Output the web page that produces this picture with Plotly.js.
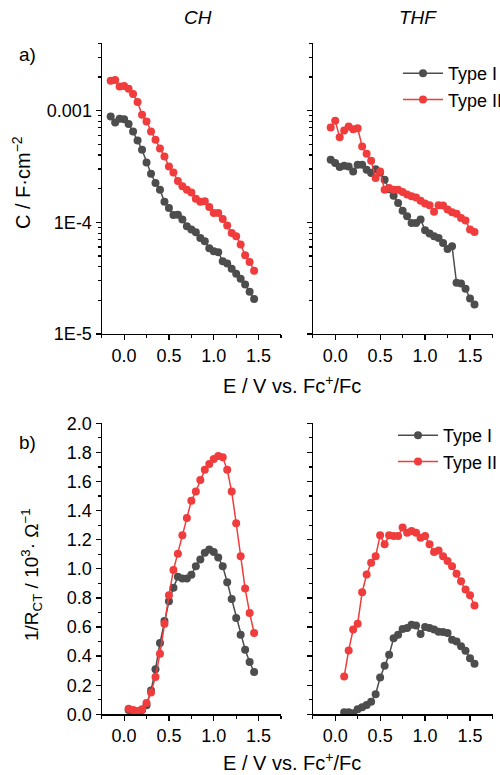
<!DOCTYPE html>
<html>
<head>
<meta charset="utf-8">
<script src="https://cdn.plot.ly/plotly-3.0.1.min.js"></script>
<style>html,body{margin:0;padding:0;background:#fff;}#chart{width:500px;height:775px;}</style>
</head>
<body>
<div id="chart"></div>
<script>
// ---------- DATA ----------
const seriesNames = ["Type I", "Type II"];
const panelTitles = ["CH", "THF"];
const xTickLabels = ["0.0", "0.5", "1.0", "1.5"];
const xTickValues = [0, 0.5, 1.0, 1.5];
const capTickValues = [1e-5, 1e-4, 1e-3];
const capTickLabels = ["1E-5", "1E-4", "0.001"];

// Capacitance, CH (E in V vs Fc+/Fc)
const capCH_E = [-0.15,-0.10,-0.05,0.00,0.05,0.10,0.15,0.20,0.25,0.30,0.35,0.40,0.45,0.50,0.55,0.60,0.65,0.70,0.75,0.80,0.85,0.90,0.95,1.00,1.05,1.10,1.15,1.20,1.25,1.30,1.35,1.40,1.45];
const capCH_typeI = [8.84e-4,7.81e-4,8.43e-4,8.37e-4,7.60e-4,6.49e-4,5.40e-4,4.45e-4,3.43e-4,2.72e-4,2.25e-4,1.96e-4,1.53e-4,1.34e-4,1.16e-4,1.17e-4,1.06e-4,9.21e-5,8.60e-5,8.15e-5,7.25e-5,6.77e-5,5.86e-5,5.51e-5,5.40e-5,4.49e-5,4.28e-5,3.83e-5,3.46e-5,3.12e-5,2.78e-5,2.39e-5,2.06e-5];
const capCH_typeII = [1.85e-3,1.88e-3,1.64e-3,1.66e-3,1.57e-3,1.41e-3,1.19e-3,9.15e-4,7.98e-4,6.49e-4,5.47e-4,4.58e-4,3.88e-4,3.16e-4,2.79e-4,2.34e-4,2.10e-4,1.96e-4,1.85e-4,1.62e-4,1.53e-4,1.54e-4,1.37e-4,1.21e-4,1.21e-4,1.07e-4,9.34e-5,8.03e-5,7.50e-5,6.32e-5,5.07e-5,4.42e-5,3.68e-5];

// Capacitance, THF
const capTHF_E = [-0.05,0.00,0.05,0.10,0.15,0.20,0.25,0.30,0.35,0.40,0.45,0.50,0.55,0.60,0.65,0.70,0.75,0.80,0.85,0.90,0.95,1.00,1.05,1.10,1.15,1.20,1.25,1.30,1.35,1.40,1.45,1.50,1.55];
const capTHF_typeI = [3.63e-4,3.39e-4,3.12e-4,3.21e-4,3.16e-4,2.85e-4,3.27e-4,3.27e-4,2.95e-4,2.76e-4,2.99e-4,2.79e-4,2.40e-4,1.98e-4,1.73e-4,1.49e-4,1.27e-4,1.13e-4,9.86e-5,9.86e-5,1.06e-4,8.49e-5,7.92e-5,7.50e-5,7.25e-5,6.53e-5,5.78e-5,6.10e-5,2.87e-5,2.83e-5,2.54e-5,2.08e-5,1.84e-5];
const capTHF_typeII = [7.05e-4,8.09e-4,5.78e-4,6.63e-4,7.20e-4,6.81e-4,6.95e-4,4.77e-4,4.10e-4,3.55e-4,2.49e-4,2.85e-4,1.96e-4,2.03e-4,1.96e-4,1.96e-4,1.87e-4,1.77e-4,1.71e-4,1.67e-4,1.56e-4,1.47e-4,1.42e-4,1.24e-4,1.42e-4,1.41e-4,1.30e-4,1.23e-4,1.19e-4,1.09e-4,1.04e-4,8.60e-5,8.20e-5];

// 1/R_CT, CH
const rctCH_E = [0.05,0.10,0.15,0.20,0.25,0.30,0.35,0.40,0.45,0.50,0.55,0.60,0.65,0.70,0.75,0.80,0.85,0.90,0.95,1.00,1.05,1.10,1.15,1.20,1.25,1.30,1.35,1.40,1.45];
const rctCH_typeI = [0.030,0.023,0.016,0.030,0.062,0.163,0.310,0.490,0.641,0.777,0.869,0.945,0.933,0.933,0.959,1.018,1.064,1.110,1.133,1.115,1.078,1.018,0.908,0.793,0.662,0.547,0.444,0.359,0.290];
const rctCH_typeII = [0.039,0.030,0.023,0.034,0.078,0.149,0.257,0.416,0.623,0.818,0.991,1.103,1.230,1.349,1.467,1.531,1.611,1.680,1.720,1.754,1.775,1.766,1.680,1.531,1.313,1.087,0.864,0.697,0.559];

// 1/R_CT, THF
const rctTHF_E = [0.10,0.15,0.20,0.25,0.30,0.35,0.40,0.45,0.50,0.55,0.60,0.65,0.70,0.75,0.80,0.85,0.90,0.95,1.00,1.05,1.10,1.15,1.20,1.25,1.30,1.35,1.40,1.45,1.50,1.55];
const rctTHF_typeI = [0.014,0.014,0.007,0.034,0.048,0.064,0.087,0.138,0.253,0.333,0.409,0.522,0.547,0.586,0.593,0.616,0.611,0.552,0.600,0.593,0.582,0.568,0.566,0.559,0.513,0.501,0.467,0.437,0.386,0.347];
const rctTHF_typeII = [0.260,0.439,0.582,0.623,0.839,0.961,1.041,1.087,1.230,1.168,1.230,1.225,1.225,1.283,1.248,1.260,1.248,1.214,1.225,1.168,1.115,1.126,1.087,1.053,1.018,0.966,0.915,0.857,0.818,0.747];

// ---------- STYLE ----------
const W = 500, H = 775;
const FONT = "Liberation Sans, Arial, sans-serif";
const GRAY = "#4d4d4d", RED = "#f03c3c";
const px = x => x / W;
const py = y => 1 - y / H;

function tr(x, y, color, name, xa, ya, legend, show) {
  return {
    x: x, y: y, name: name, type: "scatter", mode: "lines+markers",
    xaxis: xa, yaxis: ya, legend: legend, showlegend: show,
    line: {color: color, width: 1.5},
    marker: {color: color, size: 8, symbol: "circle"}
  };
}

const data = [
  tr(capCH_E, capCH_typeI, GRAY, seriesNames[0], "x", "y", "legend", false),
  tr(capCH_E, capCH_typeII, RED, seriesNames[1], "x", "y", "legend", false),
  tr(capTHF_E, capTHF_typeI, GRAY, seriesNames[0], "x2", "y2", "legend", true),
  tr(capTHF_E, capTHF_typeII, RED, seriesNames[1], "x2", "y2", "legend", true),
  tr(rctCH_E, rctCH_typeI, GRAY, seriesNames[0], "x3", "y3", "legend2", false),
  tr(rctCH_E, rctCH_typeII, RED, seriesNames[1], "x3", "y3", "legend2", false),
  tr(rctTHF_E, rctTHF_typeI, GRAY, seriesNames[0], "x4", "y4", "legend2", true),
  tr(rctTHF_E, rctTHF_typeII, RED, seriesNames[1], "x4", "y4", "legend2", true)
];

// log minor ticks (2..9 per decade)
const logMinor = [];
for (let d = -5; d <= -3; d++) for (let k = 2; k <= 9; k++) logMinor.push(k * Math.pow(10, d));

const tickFont = {family: FONT, size: 18, color: "#000"};
function xAxis(domain, anchor) {
  return {
    domain: domain, anchor: anchor, range: [-0.25, 1.75],
    tickmode: "array", tickvals: xTickValues, ticktext: xTickLabels,
    showline: true, linecolor: "#000", linewidth: 1.2, mirror: false,
    ticks: "outside", ticklen: 5, tickwidth: 1.2, tickcolor: "#000",
    minor: {dtick: 0.25, tick0: 0, ticks: "outside", ticklen: 3, tickwidth: 1.2, tickcolor: "#000", showgrid: false},
    showgrid: false, zeroline: false, tickfont: tickFont, fixedrange: true
  };
}
function yLog(domain, anchor, labels) {
  return {
    domain: domain, anchor: anchor, type: "log",
    range: [Math.log10(1e-5), Math.log10(4e-3)],
    tickmode: "array", tickvals: capTickValues, ticktext: capTickLabels,
    showticklabels: labels,
    showline: true, linecolor: "#000", linewidth: 1.2,
    ticks: "outside", ticklen: 5, tickwidth: 1.2, tickcolor: "#000",
    minor: {tickmode: "array", tickvals: logMinor, ticks: "outside", ticklen: 3, tickwidth: 1.2, tickcolor: "#000", showgrid: false},
    showgrid: false, zeroline: false, tickfont: tickFont, fixedrange: true
  };
}
function yLin(domain, anchor, labels) {
  return {
    domain: domain, anchor: anchor, range: [0, 2.0],
    dtick: 0.2, tick0: 0, tickformat: ".1f",
    showticklabels: labels,
    showline: true, linecolor: "#000", linewidth: 1.2,
    ticks: "outside", ticklen: 5, tickwidth: 1.2, tickcolor: "#000",
    minor: {dtick: 0.1, tick0: 0, ticks: "outside", ticklen: 3, tickwidth: 1.2, tickcolor: "#000", showgrid: false},
    showgrid: false, zeroline: false, tickfont: tickFont, fixedrange: true
  };
}

const dxL = [px(101.7), px(281)];
const dxR = [px(312.7), px(492.5)];
const dyT = [py(334), py(43.3)];
const dyB = [py(714.3), py(423.3)];

function ann(text, x, y, size, extra) {
  return Object.assign({
    text: text, x: px(x), y: py(y), xref: "paper", yref: "paper",
    showarrow: false, xanchor: "center", yanchor: "middle",
    font: {family: FONT, size: size, color: "#000"}
  }, extra || {});
}

const layout = {
  width: W, height: H,
  margin: {l: 0, r: 0, t: 0, b: 0, autoexpand: false},
  paper_bgcolor: "#fff", plot_bgcolor: "#fff",
  font: {family: FONT, size: 18, color: "#000"},
  xaxis: xAxis(dxL, "y"),
  yaxis: yLog(dyT, "x", true),
  xaxis2: xAxis(dxR, "y2"),
  yaxis2: yLog(dyT, "x2", false),
  xaxis3: xAxis(dxL, "y3"),
  yaxis3: yLin(dyB, "x3", true),
  xaxis4: xAxis(dxR, "y4"),
  yaxis4: yLin(dyB, "x4", false),
  legend: {
    x: px(398), y: py(55), xanchor: "left", yanchor: "top",
    bgcolor: "rgba(0,0,0,0)", borderwidth: 0, itemwidth: 40,
    font: {family: FONT, size: 18, color: "#000"}, tracegroupgap: 0
  },
  legend2: {
    x: px(393), y: py(417), xanchor: "left", yanchor: "top",
    bgcolor: "rgba(0,0,0,0)", borderwidth: 0, itemwidth: 40,
    font: {family: FONT, size: 18, color: "#000"}, tracegroupgap: 0
  },
  annotations: [
    ann("<i>" + panelTitles[0] + "</i>", 198, 18, 19),
    ann("<i>" + panelTitles[1] + "</i>", 418, 18, 19),
    ann("a)", 27, 55, 19),
    ann("b)", 27, 442, 19),
    ann("E / V vs. Fc<sup>+</sup>/Fc", 292, 384, 20),
    ann("E / V vs. Fc<sup>+</sup>/Fc", 292, 761, 20),
    ann("C / F·cm<sup>−2</sup>", 22, 183, 20, {textangle: -90}),
    ann("1/R<sub>CT</sub> / 10<sup>3</sup>· Ω<sup>−1</sup>", 31, 575, 19, {textangle: -90})
  ],
  showlegend: true
};

Plotly.newPlot("chart", data, layout, {staticPlot: true, displayModeBar: false});
</script>
</body>
</html>
